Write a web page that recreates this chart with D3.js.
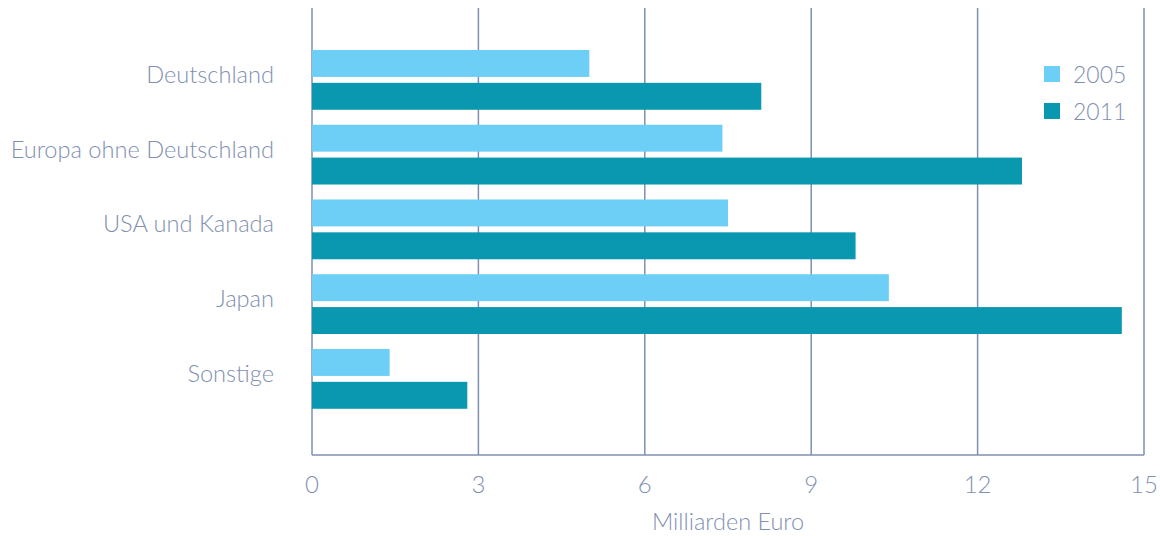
<!DOCTYPE html>
<html><head><meta charset="utf-8">
<script src="https://cdn.jsdelivr.net/npm/d3@7"></script>
<style>
html,body{margin:0;padding:0;background:#fff;}
text{font-family:Lato,"Open Sans",sans-serif;font-weight:300;fill:#7f90b1;}
</style></head>
<body><svg id="c" width="1160" height="536"></svg>
<script>
const categories = ["Deutschland","Europa ohne Deutschland","USA und Kanada","Japan","Sonstige"];
const years = ["2005","2011"];
const values2005 = [5.0, 7.4, 7.5, 10.4, 1.4];
const values2011 = [8.1, 12.8, 9.8, 14.6, 2.8];
const xTicks = [0,3,6,9,12,15];
const xTitle = "Milliarden Euro";
const colors = {"2005":"#6dcff6","2011":"#0a98b0"};

(function(){
const svg = d3.select("#c");
const x = d3.scaleLinear().domain([0,15]).range([312,1144]);
const y = d3.scaleBand().domain(categories).range([42.5,416.25]).paddingInner(0.2).paddingOuter(0.1);
const ys = d3.scaleBand().domain(years).range([0,y.bandwidth()]).paddingInner(0.18);
const plotTop = 8, plotBottom = 455;

// grid lines
svg.append("g").selectAll("line").data(xTicks).join("line")
  .attr("x1",d=>x(d)).attr("x2",d=>x(d)).attr("y1",plotTop).attr("y2",plotBottom)
  .attr("stroke",d=>d===0?"#a3abc4":"#7f8fae").attr("stroke-width",d=>d===0?2:1.5);
svg.append("line").attr("x1",x(0)).attr("x2",x(15)).attr("y1",plotBottom).attr("y2",plotBottom)
  .attr("stroke","#7f8fae").attr("stroke-width",1.5);

// bars
const rows = categories.map((c,i)=>({cat:c, vals:[{year:"2005",v:values2005[i]},{year:"2011",v:values2011[i]}]}));
const g = svg.append("g").selectAll("g").data(rows).join("g")
  .attr("transform",d=>`translate(0,${y(d.cat)})`);
g.selectAll("rect").data(d=>d.vals).join("rect")
  .attr("x",x(0)).attr("y",d=>ys(d.year)).attr("width",d=>x(d.v)-x(0)).attr("height",ys.bandwidth())
  .attr("fill",d=>colors[d.year]);

// category labels
svg.append("g").selectAll("text").data(categories).join("text")
  .attr("x",274).attr("y",d=>y(d)+y.bandwidth()/2-6).attr("text-anchor","end")
  .attr("dominant-baseline","central").attr("font-size",23.6).text(d=>d);

// x tick labels
svg.append("g").selectAll("text").data(xTicks).join("text")
  .attr("x",d=>x(d)).attr("y",493).attr("text-anchor","middle").attr("font-size",24).text(d=>d);

svg.append("text").attr("x",(x(0)+x(15))/2).attr("y",530).attr("text-anchor","middle")
  .attr("font-size",23.5).text(xTitle);

// legend
const lg = svg.append("g").selectAll("g").data(years).join("g")
  .attr("transform",(d,i)=>`translate(1044,${66+i*37})`);
lg.append("rect").attr("width",16).attr("height",16).attr("fill",d=>colors[d]);
lg.append("text").attr("x",29).attr("y",8).attr("dominant-baseline","central").attr("font-size",23).text(d=>d);
})();
</script></body></html>
